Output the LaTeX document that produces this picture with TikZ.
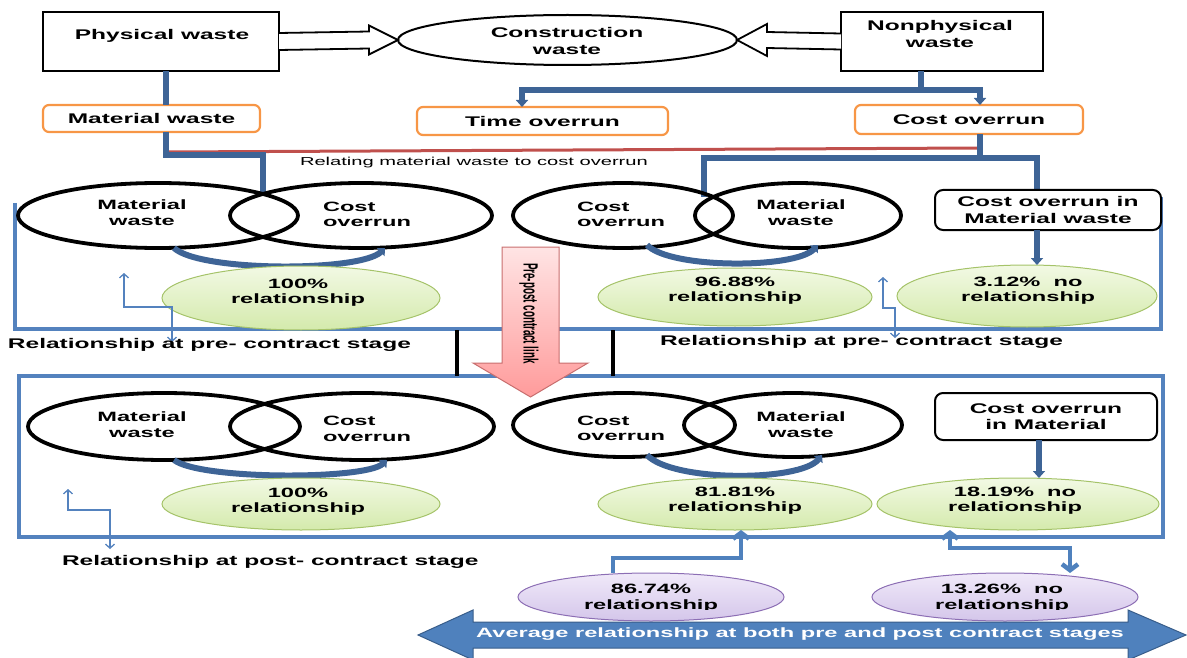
\documentclass[tikz,border=0pt]{standalone}
\usepackage{fontspec}
\usepackage{graphicx}
\setmainfont{Liberation Sans}[FakeStretch=1.75]
\newfontfamily\plainsans{Liberation Sans}
\usetikzlibrary{shapes.geometric,arrows.meta,calc}
\definecolor{connC}{RGB}{62,100,150}
\definecolor{conn2C}{RGB}{79,129,189}
\definecolor{frameC}{RGB}{84,130,190}
\definecolor{orangeC}{RGB}{247,150,70}
\definecolor{redC}{RGB}{192,80,77}
\definecolor{greenT}{RGB}{242,249,228}
\definecolor{greenB}{RGB}{212,234,172}
\definecolor{greenD}{RGB}{165,195,105}
\definecolor{purT}{RGB}{240,233,249}
\definecolor{purB}{RGB}{212,198,234}
\definecolor{purD}{RGB}{140,110,180}
\definecolor{pinkT}{RGB}{255,228,228}
\definecolor{pinkB}{RGB}{255,155,155}
\definecolor{pinkD}{RGB}{200,110,110}
\definecolor{bigF}{RGB}{79,129,189}
\definecolor{bigD}{RGB}{56,93,138}
\begin{document}
\begin{tikzpicture}[x=1pt,y=-1pt,
  every node/.style={inner sep=0pt, outer sep=0pt},
  blkbox/.style={draw=black, line width=2.5pt, fill=white},
  obox/.style={draw=orangeC, line width=2.2pt, rounded corners=6pt, fill=white},
  cbox/.style={draw=black, line width=2pt, rounded corners=8pt, fill=white},
  venn/.style={ellipse, draw=black, line width=3.8pt},
  gell/.style={ellipse, draw=greenD, line width=1pt, top color=greenT, bottom color=greenB},
  pell/.style={ellipse, draw=purD, line width=1pt, top color=purT, bottom color=purB},
  txt/.style={font=\bfseries\fontsize{14}{16.5}\selectfont, align=center},
  vtxt/.style={font=\bfseries\fontsize{13.5}{15.5}\selectfont, align=center},
  conn/.style={draw=connC, line width=5.5pt},
  conntwo/.style={draw=conn2C, line width=4.5pt},
  tipA/.style={-{Triangle[length=7pt,width=12pt]}},
  tipAB/.style={{Triangle[length=7pt,width=12pt]}-{Triangle[length=7pt,width=12pt]}},
  tipB/.style={-{Straight Barb[length=6pt,width=16pt]}},
  tipBB/.style={{Straight Barb[length=6pt,width=16pt]}-{Straight Barb[length=6pt,width=16pt]}},
  frame/.style={draw=frameC, line width=3.5pt},
  thinarr/.style={draw=frameC, line width=1.3pt, {Straight Barb[length=4pt,width=9pt]}-{Straight Barb[length=4pt,width=9pt]}},
  arcst/.style={draw=connC, line width=6pt, -{Triangle[length=6pt,width=11pt]}},
  hollow/.style={draw=black, line width=1.8pt, fill=white, line join=miter},
]
\useasboundingbox (0,0) rectangle (1187,658);

% column coordinates
\coordinate (c1) at (166,0);
\coordinate (c2) at (264,0);
\coordinate (c3) at (522,0);
\coordinate (c4) at (921,0);
\coordinate (c5) at (980,0);
\coordinate (c6) at (704,0);
\coordinate (c7) at (1037,0);
\coordinate (c7b) at (1039,0);
\coordinate (c8) at (613,0);
\coordinate (c9) at (741,0);
\coordinate (c10) at (950,0);
\coordinate (c11) at (1070,0);

% frames
\draw[frame] (15,203) -- (15,329) -- (1161,329) -- (1161,197);
\draw[frame] (19,376) rectangle (1163,537);
\draw[line width=4pt] (457,330) -- (457,376);
\draw[line width=4pt] (613,330) -- (613,376);

% top row
\node[blkbox, minimum width=236pt, minimum height=59pt] (phys) at (161,41.5) {};
\node[txt] (physT) at (162,36) {Physical waste};
\node[ellipse, draw=black, line width=2pt, minimum width=339pt, minimum height=50pt] (cw) at (567.5,40) {};
\node[txt] (cwT) at (567,41) {Construction\\waste};
\node[blkbox, minimum width=202pt, minimum height=59pt] (nphys) at (942,41.5) {};
\node[txt] (nphysT) at (940,34) {Nonphysical\\waste};

\draw[hollow] ($(phys.east)+(0,-8.5)$) -- ($(cw.west)+(-29,-8.5)$) -- ($(cw.west)+(-29,-14.5)$) -- (cw.west) -- ($(cw.west)+(-29,14.5)$) -- ($(cw.west)+(-29,8.5)$) -- ($(phys.east)+(0,8.5)$);
\draw[hollow] ($(nphys.west)+(0,-8)$) -- ($(cw.east)+(30,-8)$) -- ($(cw.east)+(30,-16)$) -- (cw.east) -- ($(cw.east)+(30,16)$) -- ($(cw.east)+(30,8)$) -- ($(nphys.west)+(0,8)$);

% orange boxes
\node[obox, txt, minimum width=217pt, minimum height=27pt] (matw) at (151.5,118.5) {Material waste};
\node[obox, txt, minimum width=251pt, minimum height=28pt] (time) at (542.5,121) {Time overrun};
\node[obox, txt, minimum width=228pt, minimum height=29pt] (cost) at (969,119.5) {Cost overrun};

% top connectors
\coordinate (r1) at (168,152);
\coordinate (r2) at (978,148);
\draw[draw=redC, line width=3pt] (r1) -- (r2);
\draw[conn] (c1 |- phys.south) -- (c1 |- matw.north);
\coordinate (vt1) at (263,195);
\draw[conn] (c1 |- matw.south) -- (166,155) -- (263,155) -- (vt1);
\draw[conn] (c4 |- nphys.south) -- (921,90);
\draw[conn, tipAB] (c3 |- time.north) -- (522,90) -- (980,90) -- (c5 |- cost.north);
\coordinate (vt2) at (704,197);
\draw[conn] (c5 |- cost.south) -- (980,158);
\draw[conn] (vt2) -- (704,158) -- (1037,158) -- (1037,190);

\node[font=\fontsize{11.5}{13}\selectfont, anchor=west] (rel) at (300,163) {Relating material waste to cost overrun};

% upper Venn diagrams
\node[venn, minimum width=280pt, minimum height=65pt] (v1a) at (158,215.5) {};
\node[venn, minimum width=262pt, minimum height=65pt] (v1b) at (361,215.5) {};
\node[vtxt] (v1aT) at (142,212.5) {Material\\waste};
\node[vtxt, align=left, anchor=west] (v1bT) at (323,214.5) {Cost\\overrun};
\draw[arcst] ($(v1a.south)+(16,0)$) .. controls (200,272) and (360,272) .. ($(v1b.south)+(24,0)$);

\node[venn, minimum width=220pt, minimum height=65pt] (v2a) at (623,215.5) {};
\node[venn, minimum width=206pt, minimum height=65pt] (v2b) at (798,215.5) {};
\node[vtxt, align=left, anchor=west] (v2aT) at (577,214.5) {Cost\\overrun};
\node[vtxt] (v2bT) at (801,212.5) {Material\\waste};
\draw[arcst] ($(v2a.south)+(24,-3)$) .. controls (670,269) and (795,269) .. ($(v2b.south)+(20,-3)$);

\node[cbox, txt, minimum width=226pt, minimum height=40pt] (com1) at (1048,210) {Cost overrun in\\Material waste};

% upper green
\node[gell, minimum width=278pt, minimum height=64pt] (g1) at (301,298) {};
\node[vtxt] (g1T) at (298,292.5) {100\%\\relationship};
\node[gell, minimum width=274pt, minimum height=58pt] (g2) at (735,297) {};
\node[vtxt] (g2T) at (735,290.5) {96.88\%\\relationship};
\node[gell, minimum width=260pt, minimum height=62pt] (g3) at (1027,296) {};
\node[vtxt] (g3T) at (1028,290.5) {3.12\%\ \ no\\relationship};
\draw[conn, tipA] (c7 |- com1.south) -- (c7 |- g3.north);

% thin elbow arrows
\coordinate (e1a) at (124,273); \coordinate (e1b) at (124,307);
\coordinate (e1c) at (172,307); \coordinate (e1d) at (172,342);
\draw[thinarr] (e1a) -- (e1b) -- (e1c) -- (e1d);
\coordinate (e2a) at (883,277); \coordinate (e2b) at (883,308);
\coordinate (e2c) at (895,308); \coordinate (e2d) at (895,338);
\draw[thinarr] (e2a) -- (e2b) -- (e2c) -- (e2d);
\coordinate (e3a) at (68,489); \coordinate (e3b) at (68,510);
\coordinate (e3c) at (110,510); \coordinate (e3d) at (110,549);
\draw[thinarr] (e3a) -- (e3b) -- (e3c) -- (e3d);

\node[txt, anchor=west] (preL) at (8,345) {Relationship at pre- contract stage};
\node[txt, anchor=west] (preR) at (660,342) {Relationship at pre- contract stage};
\node[txt, anchor=west] (postL) at (62,562) {Relationship at post- contract stage};

% lower Venn diagrams
\node[venn, minimum width=272pt, minimum height=67pt] (v3a) at (164,426.5) {};
\node[venn, minimum width=264pt, minimum height=67pt] (v3b) at (362,426.5) {};
\node[vtxt] (v3aT) at (142,424.5) {Material\\waste};
\node[vtxt, align=left, anchor=west] (v3bT) at (323,429) {Cost\\overrun};
\draw[arcst] ($(v3a.south)+(10,0)$) .. controls (200,480) and (365,480) .. ($(v3b.south)+(25,0)$);

\node[venn, minimum width=222pt, minimum height=64pt] (v4a) at (624,425) {};
\node[venn, minimum width=218pt, minimum height=64pt] (v4b) at (793,425) {};
\node[vtxt, align=left, anchor=west] (v4aT) at (577,428.5) {Cost\\overrun};
\node[vtxt] (v4bT) at (801,424.5) {Material\\waste};
\draw[arcst] ($(v4a.south)+(23,-2)$) .. controls (672,482) and (800,482) .. ($(v4b.south)+(29,-2)$);

\node[cbox, txt, minimum width=222pt, minimum height=47pt] (com2) at (1046,416.5) {Cost overrun\\in Material};

% lower green
\node[gell, minimum width=278pt, minimum height=52pt] (g4) at (301,504) {};
\node[vtxt] (g4T) at (298,501.5) {100\%\\relationship};
\node[gell, minimum width=274pt, minimum height=52pt] (g5) at (735,504) {};
\node[vtxt] (g5T) at (735,500.5) {81.81\%\\relationship};
\node[gell, minimum width=282pt, minimum height=52pt] (g6) at (1018,504) {};
\node[vtxt] (g6T) at (1015,500.5) {18.19\%\ \ no\\relationship};
\draw[conn, tipA] (c7b |- com2.south) -- (c7b |- g6.north);

% purple ellipses
\node[pell, minimum width=266pt, minimum height=48pt] (p1) at (651,597) {};
\node[pell, minimum width=266pt, minimum height=48pt] (p2) at (1005,597) {};
\begin{scope}
\clip (500,570) rectangle (1150,609);
\node[vtxt] (p1T) at (651,598) {86.74\%\\relationship};
\node[vtxt] (p2T) at (1002,598) {13.26\%\ \ no\\relationship};
\end{scope}
\draw[conntwo, tipB] (c8 |- p1.north) -- (613,558) -- (741,558) -- (c9 |- g5.south);
\draw[conntwo, tipBB] (c10 |- g6.south) -- (950,548) -- (1070,548) -- (c11 |- p2.north);

% pink arrow
\path[top color=pinkT, bottom color=pinkB, draw=pinkD, line width=1pt]
  (502,247) -- (559,247) -- (559,363) -- (588,363) -- (530.5,397) -- (473,363) -- (502,363) -- cycle;
\node[rotate=-90, font=\plainsans\bfseries\fontsize{9.8}{11}\selectfont] (pp) at (529,313.5) {\scalebox{1}[2.1]{Pre-post contract link}};

% big double arrow
\path[fill=bigF, draw=bigD, line width=1pt]
  (418,635) -- (473,610) -- (473,622) -- (1128,622) -- (1128,610) -- (1186,635) -- (1128,660) -- (1128,648) -- (473,648) -- (473,660) -- cycle;
\node[font=\bfseries\fontsize{13.5}{15}\selectfont, text=white] (avg) at (800,634) {Average relationship at both pre and post contract stages};
\end{tikzpicture}
\end{document}
